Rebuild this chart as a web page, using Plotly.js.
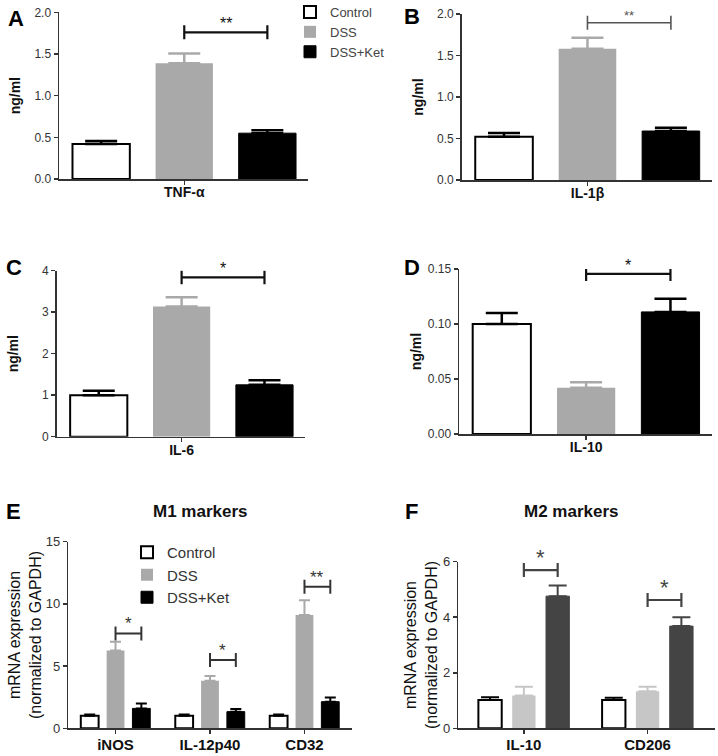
<!DOCTYPE html>
<html>
<head>
<meta charset="utf-8">
<script src="https://cdn.plot.ly/plotly-3.0.1.min.js"></script>
<style>html,body{margin:0;padding:0;background:#fff;}#chart{width:718px;height:756px;}</style>
</head>
<body>
<div id="chart"></div>
<script>
// ---------------- DATA ----------------
const groups = ['Control', 'DSS', 'DSS+Ket'];

// Panels A-D (ELISA, ng/ml): one cytokine each, values for Control, DSS, DSS+Ket
const catA = ['TNF-α'];
const meanA = [0.42, 1.39, 0.55];
const errA  = [0.035, 0.115, 0.035];
const sigA  = [1.76];
const starA = ['**'];

const catB = ['IL-1β'];
const meanB = [0.52, 1.58, 0.59];
const errB  = [0.045, 0.135, 0.04];
const sigB  = [1.895];
const starB = ['**'];

const catC = ['IL-6'];
const meanC = [1.0, 3.14, 1.25];
const errC  = [0.11, 0.22, 0.11];
const sigC  = [3.84];
const starC = ['*'];

const catD = ['IL-10'];
const meanD = [0.100, 0.042, 0.111];
const errD  = [0.010, 0.005, 0.012];
const sigD  = [0.1455];
const starD = ['*'];

// Panel E: M1 markers (mRNA, normalized to GAPDH)
const catE = ['iNOS', 'IL-12p40', 'CD32'];
const ctrlE = [1.0, 1.0, 1.0];
const ctrlErrE = [0.1, 0.1, 0.1];
const dssE = [6.25, 3.83, 9.1];
const dssErrE = [0.7, 0.37, 1.2];
const ketE = [1.6, 1.34, 2.14];
const ketErrE = [0.4, 0.22, 0.33];
const sigE = [7.63, 5.49, 11.38];
const starE = ['*', '*', '**'];

// Panel F: M2 markers
const catF = ['IL-10', 'CD206'];
const ctrlF = [1.02, 1.02];
const ctrlErrF = [0.1, 0.08];
const dssF = [1.18, 1.33];
const dssErrF = [0.32, 0.17];
const ketF = [4.76, 3.68];
const ketErrF = [0.38, 0.32];
const sigF = [5.7, 4.62];
const starF = ['*', '*'];

// ---------------- STYLE ----------------
const W = 718, H = 756;
const FONT = 'Liberation Sans, Arial, Helvetica, sans-serif';
const BARGAP = 0.18, BARGROUPGAP = 0.31;
const SLOT = (1 - BARGAP) / 3;   // offset between neighbouring bars in a group (category units)
const AXC = '#333';

const styleABCDE = [
  {fill: '#ffffff', line: '#000000', lw: 2, err: '#000000'},
  {fill: '#a9a9a9', line: '#a9a9a9', lw: 0, err: '#a9a9a9'},
  {fill: '#000000', line: '#000000', lw: 1, err: '#000000'}
];
const styleF = [
  {fill: '#ffffff', line: '#000000', lw: 2, err: '#000000'},
  {fill: '#c6c6c6', line: '#c6c6c6', lw: 0, err: '#c6c6c6'},
  {fill: '#444444', line: '#444444', lw: 1, err: '#444444'}
];

const traces = [];
const annotations = [];

function idx(arr) { return arr.map((_, i) => i); }

function addBars(ax, cats, ys, errs, styles, errW, errT, legendName) {
  for (let g = 0; g < 3; g++) {
    const s = styles[g];
    const t = {
      type: 'bar', name: groups[g],
      x: idx(cats), y: ys[g],
      xaxis: 'x' + ax, yaxis: 'y' + ax,
      marker: {color: s.fill, line: {color: s.line, width: s.lw}},
      error_y: {type: 'data', symmetric: false, array: errs[g], arrayminus: errs[g].map(() => 0),
                color: s.err, thickness: errT, width: errW},
      hoverinfo: 'skip',
      showlegend: !!legendName
    };
    if (legendName) t.legend = legendName;
    traces.push(t);
  }
}

function addSig(ax, cats, heights, stars, color, lw, starSize) {
  cats.forEach((c, i) => {
    traces.push({
      type: 'scatter', mode: 'lines+markers',
      x: [i, i + SLOT], y: [heights[i], heights[i]],
      xaxis: 'x' + ax, yaxis: 'y' + ax,
      line: {color: color, width: lw},
      marker: {symbol: 'line-ns', size: 10, line: {color: color, width: lw}},
      showlegend: false, hoverinfo: 'skip'
    });
    annotations.push({
      xref: 'x' + ax, yref: 'y' + ax, x: i + SLOT / 2, y: heights[i],
      text: stars[i], showarrow: false, yanchor: 'bottom', yshift: -2,
      font: {family: FONT, size: starSize, color: color}
    });
  });
}

// Panels A-D
addBars(1, catA, meanA.map(v => [v]), errA.map(v => [v]), styleABCDE, 16, 2.5, 'legend');
addBars(2, catB, meanB.map(v => [v]), errB.map(v => [v]), styleABCDE, 16, 2.5, null);
addBars(3, catC, meanC.map(v => [v]), errC.map(v => [v]), styleABCDE, 16, 2.5, null);
addBars(4, catD, meanD.map(v => [v]), errD.map(v => [v]), styleABCDE, 16, 2.5, null);
addBars(5, catE, [ctrlE, dssE, ketE], [ctrlErrE, dssErrE, ketErrE], styleABCDE, 5.5, 2, 'legend2');
addBars(6, catF, [ctrlF, dssF, ketF], [ctrlErrF, dssErrF, ketErrF], styleF, 9, 2, null);

addSig(1, catA, sigA, starA, '#111', 2.2, 16);
addSig(2, catB, sigB, starB, '#555', 1.6, 13);
addSig(3, catC, sigC, starC, '#111', 2.2, 16);
addSig(4, catD, sigD, starD, '#111', 2.2, 16);
addSig(5, catE, sigE, starE, '#333', 2, 17);
addSig(6, catF, sigF, starF, '#444', 2.2, 22);

// ---------------- LAYOUT ----------------
function dx(a, b) { return [a / W, b / W]; }
function dy(top, bottom) { return [1 - bottom / H, 1 - top / H]; }

function xa(domain, range, cats, size, standoff) {
  return {
    domain: domain, range: range, type: 'linear',
    tickvals: idx(cats), ticktext: cats,
    showline: true, linecolor: AXC, linewidth: 1.5,
    ticks: 'outside', ticklen: 4, tickwidth: 1.5, tickcolor: AXC,
    ticklabelstandoff: standoff,
    showgrid: false, zeroline: false, fixedrange: true,
    tickfont: {family: FONT, size: size, color: '#111', weight: 'bold'}
  };
}
function ya(domain, anchor, range, dtick, fmt, title, tsize, tweight, fsize) {
  return {
    domain: domain, range: range, anchor: anchor,
    dtick: dtick, tick0: 0, tickformat: fmt,
    showline: true, linecolor: AXC, linewidth: 1.5,
    ticks: 'outside', ticklen: 4, tickwidth: 1.5, tickcolor: AXC,
    showgrid: false, zeroline: false, fixedrange: true,
    tickfont: {family: FONT, size: fsize, color: '#333'},
    title: {text: title, font: {family: FONT, size: tsize, color: '#111', weight: tweight}}
  };
}

const RNG1 = [-0.412, 0.407];
const layout = {
  width: W, height: H,
  margin: {l: 0, r: 0, t: 0, b: 0, autoexpand: false},
  paper_bgcolor: '#fff', plot_bgcolor: 'rgba(0,0,0,0)',
  barmode: 'group', bargap: BARGAP, bargroupgap: BARGROUPGAP,
  font: {family: FONT, color: '#333'},
  xaxis:  Object.assign(xa(dx(59, 308), RNG1, catA, 14, -4), {anchor: 'y'}),
  yaxis:  ya(dy(12.3, 179), 'x', [0, 2], 0.5, '.1f', 'ng/ml', 14, 'bold', 12),
  xaxis2: Object.assign(xa(dx(461.7, 711.7), RNG1, catB, 14, -4), {anchor: 'y2'}),
  yaxis2: ya(dy(14, 180), 'x2', [0, 2], 0.5, '.1f', 'ng/ml', 14, 'bold', 12),
  xaxis3: Object.assign(xa(dx(56.7, 305), RNG1, catC, 14, -4), {anchor: 'y3'}),
  yaxis3: ya(dy(270.7, 436.7), 'x3', [0, 4], 1, 'd', 'ng/ml', 14, 'bold', 12),
  xaxis4: Object.assign(xa(dx(459, 711.7), RNG1, catD, 14, -4), {anchor: 'y4'}),
  yaxis4: ya(dy(269, 434), 'x4', [0, 0.15], 0.05, '.2f', 'ng/ml', 14, 'bold', 12),
  xaxis5: Object.assign(xa(dx(68.3, 351.7), [-0.5, 2.5], catE, 15, -2), {anchor: 'y5'}),
  yaxis5: ya(dy(541.7, 728.3), 'x5', [0, 15], 5, 'd', 'mRNA expression<br>(normalized to GAPDH)', 16, 'normal', 13),
  xaxis6: Object.assign(xa(dx(458.3, 715), [-0.53, 1.545], catF, 15, -2), {anchor: 'y6'}),
  yaxis6: ya(dy(561.7, 728.3), 'x6', [0, 6], 2, 'd', 'mRNA expression<br>(normalized to GAPDH)', 16, 'normal', 13),
  legend: {
    x: 290 / W, y: 1 + 3 / H, xanchor: 'left', yanchor: 'top',
    bgcolor: 'rgba(0,0,0,0)', borderwidth: 0, tracegroupgap: 0,
    font: {family: FONT, size: 13, color: '#444'}
  },
  legend2: {
    x: 127 / W, y: 1 - 536 / H, xanchor: 'left', yanchor: 'top',
    bgcolor: 'rgba(0,0,0,0)', borderwidth: 0, tracegroupgap: 0,
    font: {family: FONT, size: 15, color: '#333'}
  },
  annotations: annotations.concat([
    {text: 'A', x: 15.5 / W, y: 1 - 18 / H},
    {text: 'B', x: 412 / W, y: 1 - 16.5 / H},
    {text: 'C', x: 14 / W, y: 1 - 268 / H},
    {text: 'D', x: 412 / W, y: 1 - 268 / H},
    {text: 'E', x: 13.5 / W, y: 1 - 511.5 / H},
    {text: 'F', x: 411 / W, y: 1 - 511.5 / H}
  ].map(a => Object.assign(a, {xref: 'paper', yref: 'paper', showarrow: false,
      xanchor: 'center', yanchor: 'middle',
      font: {family: FONT, size: 22, color: '#000', weight: 'bold'}}))
  ).concat([
    {text: 'M1 markers', x: 200 / W, y: 1 - 511 / H},
    {text: 'M2 markers', x: 571.7 / W, y: 1 - 511 / H}
  ].map(a => Object.assign(a, {xref: 'paper', yref: 'paper', showarrow: false,
      xanchor: 'center', yanchor: 'middle',
      font: {family: FONT, size: 17, color: '#111', weight: 'bold'}})))
};

Plotly.newPlot('chart', traces, layout, {staticPlot: true, displayModeBar: false});
</script>
</body>
</html>
